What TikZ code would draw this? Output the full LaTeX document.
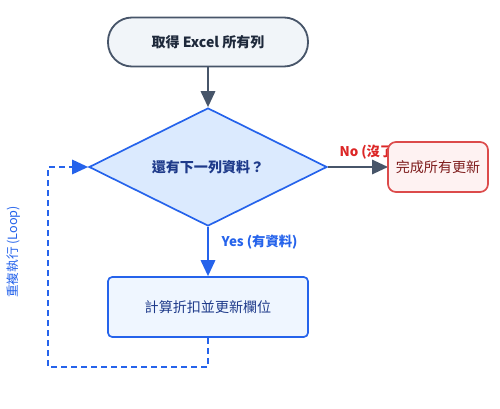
\documentclass[tikz,border=0pt]{standalone}
\usepackage{fontspec}
\setmainfont{Noto Sans CJK TC}
\usetikzlibrary{arrows.meta,shapes.geometric}

\definecolor{slate}{HTML}{475569}
\definecolor{slatefill}{HTML}{F1F5F9}
\definecolor{ink}{HTML}{1E293B}
\definecolor{blueline}{HTML}{2563EB}
\definecolor{bluefill}{HTML}{DBEAFE}
\definecolor{paleblue}{HTML}{EFF6FF}
\definecolor{navy}{HTML}{1E3A8A}
\definecolor{redline}{HTML}{DC4B4B}
\definecolor{redfill}{HTML}{FEF2F2}
\definecolor{darkred}{HTML}{7F1D1D}
\definecolor{redtext}{HTML}{DC2626}

\begin{document}
\begin{tikzpicture}[
  every node/.style={font=\fontsize{10}{12}\selectfont},
  terminal/.style={
    draw=slate,
    fill=slatefill,
    text=ink,
    rounded corners=0.6cm,
    minimum width=5cm,
    minimum height=1.225cm,
    line width=1.3pt,
    font=\fontsize{10}{12}\selectfont\bfseries
  },
  decision/.style={
    diamond,
    aspect=2,
    draw=blueline,
    fill=bluefill,
    text=navy,
    inner sep=0pt,
    minimum width=5.95cm,
    minimum height=2.95cm,
    line width=1.2pt,
    font=\fontsize{10}{12}\selectfont\bfseries
  },
  process/.style={
    draw=blueline,
    fill=paleblue,
    text=navy,
    rounded corners=3pt,
    minimum width=5cm,
    minimum height=1.5cm,
    line width=1.2pt
  },
  finish/.style={
    draw=redline,
    fill=redfill,
    text=darkred,
    rounded corners=0.2cm,
    minimum width=2.5cm,
    minimum height=1.25cm,
    line width=1.2pt
  },
  edgelbl/.style={font=\fontsize{9.5}{11}\selectfont\bfseries, text=#1},
  arr/.style={-{Triangle[length=0.4cm,width=0.36cm]}, line width=1.5pt, draw=#1},
  arr/.default=slate,
  looparr/.style={-{Triangle[length=0.4cm,width=0.36cm]}, line width=1.3pt, draw=blueline,
    dash pattern=on 0.15cm off 0.1cm},
]

% Frame of the picture.
\useasboundingbox (0,0) rectangle (12.5,-10.225);

% Main column.
\node[terminal] (start) at (5.2,-1.05) {取得 Excel 所有列};
\node[decision] (check) at (5.2,-4.175) {還有下一列資料？};
\node[process] (calc) at (5.2,-7.675) {計算折扣並更新欄位};

% Connectors.
\draw[arr] (start) -- (check);
\draw[arr] (check.east) -- node[pos=0, anchor=south west, xshift=0.15cm, yshift=0.05cm, edgelbl=redtext]
  {No (沒了)} (10.95-1.25,-4.175) coordinate (doneW);
\draw[arr=blueline] (check.south) -- node[pos=0.3, anchor=west, xshift=0.2cm, edgelbl=blueline]
  {Yes (有資料)} (calc.north);

% Exit node sits over the end of the No label.
\node[finish] (done) at (10.95,-4.175) {完成所有更新};

% Loop back to the decision.
\coordinate (loopB) at (5.2,-9.175);
\coordinate (loopL) at (1.2,-9.175);
\draw[looparr] (calc.south) -- (loopB) -- (loopL) |- (check.west);
\node[rotate=90, text=blueline, font=\fontsize{9}{11}\selectfont] (looplbl) at (0.35,-6.3) {重複執行 (Loop)};

\end{tikzpicture}
\end{document}
